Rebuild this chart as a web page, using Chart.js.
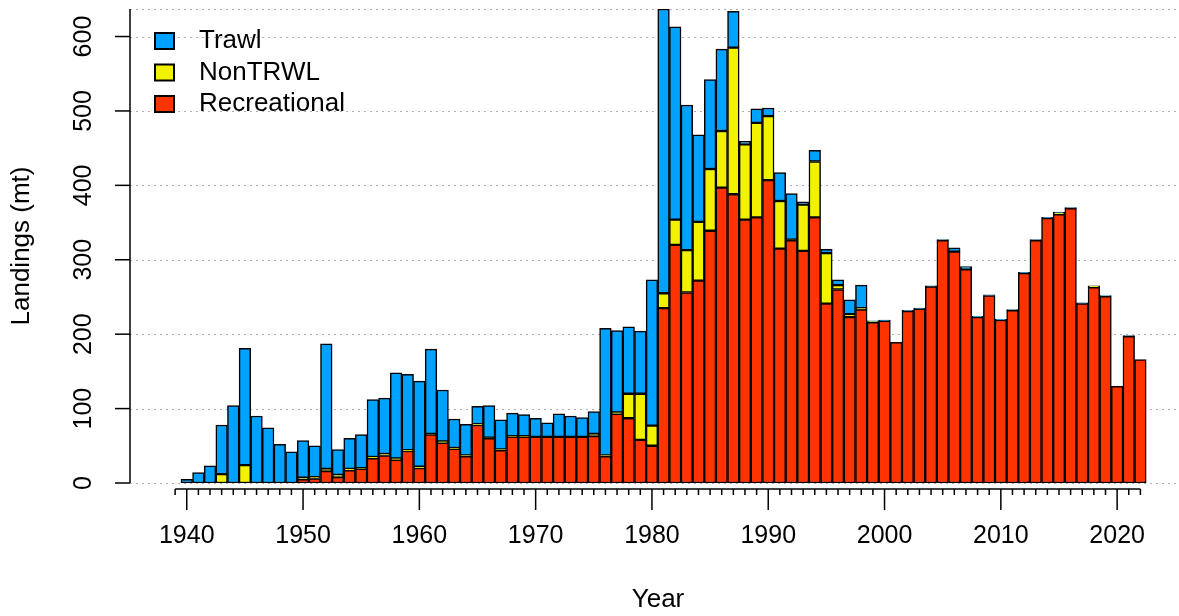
<!DOCTYPE html>
<html>
<head>
<meta charset="utf-8">
<script src="https://cdn.jsdelivr.net/npm/chart.js@4.4.1/dist/chart.umd.min.js"></script>
<style>
  html, body { margin: 0; padding: 0; background: #fff; }
  #wrap { width: 1179px; height: 616px; }
</style>
</head>
<body>
<div id="wrap"><canvas id="landingsChart" width="1179" height="616"></canvas></div>
<script>
// Landings (mt) by fleet, stacked bars, R base-graphics look
const years = [1939, 1940, 1941, 1942, 1943, 1944, 1945, 1946, 1947, 1948, 1949,
  1950, 1951, 1952, 1953, 1954, 1955, 1956, 1957, 1958, 1959,
  1960, 1961, 1962, 1963, 1964, 1965, 1966, 1967, 1968, 1969,
  1970, 1971, 1972, 1973, 1974, 1975, 1976, 1977, 1978, 1979,
  1980, 1981, 1982, 1983, 1984, 1985, 1986, 1987, 1988, 1989,
  1990, 1991, 1992, 1993, 1994, 1995, 1996, 1997, 1998, 1999,
  2000, 2001, 2002, 2003, 2004, 2005, 2006, 2007, 2008, 2009,
  2010, 2011, 2012, 2013, 2014, 2015, 2016, 2017, 2018, 2019,
  2020, 2021, 2022];

const recreational = [0, 0, 0, 0, 0, 0, 0, 0, 0, 0, 0,
  5, 6, 16, 8, 17, 19, 33, 37, 31, 43,
  20, 65, 54, 46, 36, 78, 60, 44, 62, 62,
  62, 62, 62, 62, 62, 63, 36, 93, 87, 58,
  50, 235, 320, 256, 272, 339, 397, 388, 354, 357,
  407, 315, 326, 312, 357, 241, 260, 223, 233, 216,
  218, 189, 231, 234, 264, 326, 311, 287, 223, 252,
  219, 232, 282, 326, 356, 361, 369, 241, 263, 251,
  130, 197, 166];

const nonTrawl = [0, 0, 0, 0, 12, 0, 24, 0, 0, 0, 0,
  2, 2, 3, 3, 2, 1, 2, 2, 2, 1,
  2, 1, 2, 1, 1, 1, 1, 1, 1, 1,
  0, 0, 0, 0, 0, 3, 1, 2, 33, 62,
  27, 20, 34, 57, 79, 83, 76, 197, 101, 127,
  86, 64, 1, 62, 75, 68, 6, 4, 2, 1,
  0, 0, 0, 0, 0, 0, 0, 0, 0, 0,
  0, 0, 0, 0, 0, 2, 0, 0, 2, 0,
  0, 0, 0];

const trawl = [0, 5, 14, 23, 66, 104, 157, 90, 74, 52, 42,
  50, 42, 168, 34, 41, 45, 77, 75, 115, 102,
  115, 114, 69, 39, 42, 24, 43, 40, 31, 29,
  25, 19, 31, 28, 26, 30, 171, 110, 90, 84,
  196, 382, 259, 195, 117, 120, 110, 49, 4, 19,
  11, 38, 62, 4, 15, 5, 7, 19, 31, 1,
  1, 0, 1, 1, 1, 1, 5, 4, 1, 1,
  1, 1, 1, 1, 1, 1, 1, 1, 0, 1,
  0, 1, 0];

const yTicks = [0, 100, 200, 300, 400, 500, 600];
const xLabels = [1940, 1950, 1960, 1970, 1980, 1990, 2000, 2010, 2020];
const yTop = 637;

const colTrawl = "#00A2FF";
const colNonTrawl = "#F2F200";
const colRec = "#FF3300";
const tickFont = '25px "Liberation Sans", Arial, sans-serif';
const labelFont = '26px "Liberation Sans", Arial, sans-serif';

// draws the R style axes, dotted grid, titles and legend
const rAxes = {
  id: "rAxes",
  beforeDatasetsDraw(chart) {
    const ctx = chart.ctx;
    const y = chart.scales.y;
    const area = chart.chartArea;
    ctx.save();
    ctx.strokeStyle = "#b0b0b0";
    ctx.lineWidth = 1;
    ctx.setLineDash([2, 4]);
    yTicks.concat([yTop]).forEach(v => {
      const py = Math.round(y.getPixelForValue(v)) + 0.5;
      ctx.beginPath();
      ctx.moveTo(area.left, py);
      ctx.lineTo(chart.width, py);
      ctx.stroke();
    });
    ctx.restore();
  },
  afterDraw(chart) {
    const ctx = chart.ctx;
    const x = chart.scales.x;
    const y = chart.scales.y;
    const area = chart.chartArea;
    ctx.save();
    ctx.strokeStyle = "#000";
    ctx.fillStyle = "#000";
    ctx.lineWidth = 1.5;
    ctx.font = tickFont;

    // y axis
    ctx.beginPath();
    ctx.moveTo(area.left, y.getPixelForValue(0));
    ctx.lineTo(area.left, y.getPixelForValue(yTop));
    ctx.stroke();
    yTicks.forEach(v => {
      const py = y.getPixelForValue(v);
      ctx.beginPath();
      ctx.moveTo(area.left - 15, py);
      ctx.lineTo(area.left, py);
      ctx.stroke();
      ctx.save();
      ctx.translate(area.left - 46, py);
      ctx.rotate(-Math.PI / 2);
      ctx.textAlign = "center";
      ctx.textBaseline = "middle";
      ctx.fillText(String(v), 0, 0);
      ctx.restore();
    });

    // x axis, one tick per year, long ticks on decades
    const axisY = area.bottom + 6;
    ctx.beginPath();
    ctx.moveTo(x.getPixelForValue(years[0]), axisY);
    ctx.lineTo(x.getPixelForValue(years[years.length - 1]), axisY);
    ctx.stroke();
    years.forEach(yr => {
      const px = x.getPixelForValue(yr);
      const len = xLabels.includes(yr) ? 21 : 6;
      ctx.beginPath();
      ctx.moveTo(px, axisY);
      ctx.lineTo(px, axisY + len);
      ctx.stroke();
    });
    ctx.textAlign = "center";
    ctx.textBaseline = "middle";
    xLabels.forEach(yr => {
      ctx.fillText(String(yr), x.getPixelForValue(yr), axisY + 47);
    });

    // axis titles
    ctx.font = labelFont;
    ctx.fillText("Year", 658, 600);
    ctx.save();
    ctx.translate(22, (area.top + area.bottom) / 2);
    ctx.rotate(-Math.PI / 2);
    ctx.fillText("Landings (mt)", 0, 0);
    ctx.restore();

    // legend
    const items = [
      ["Trawl", colTrawl],
      ["NonTRWL", colNonTrawl],
      ["Recreational", colRec]
    ];
    ctx.textAlign = "left";
    items.forEach((it, i) => {
      const cy = 41 + i * 31.5;
      ctx.fillStyle = it[1];
      ctx.fillRect(155, cy - 8, 19, 16);
      ctx.lineWidth = 2;
      ctx.strokeRect(155, cy - 8, 19, 16);
      ctx.fillStyle = "#000";
      ctx.fillText(it[0], 199, cy);
    });
    ctx.restore();
  }
};

const barStyle = {
  borderColor: "#000",
  borderWidth: 1.5,
  borderSkipped: false,
  barPercentage: 1,
  categoryPercentage: 1
};

const ctx = document.getElementById("landingsChart").getContext("2d");
const landingsChart = new Chart(ctx, {
  type: "bar",
  data: {
    labels: years,
    datasets: [
      Object.assign({ label: "Recreational", data: recreational, backgroundColor: colRec }, barStyle),
      Object.assign({ label: "NonTRWL", data: nonTrawl, backgroundColor: colNonTrawl }, barStyle),
      Object.assign({ label: "Trawl", data: trawl, backgroundColor: colTrawl }, barStyle)
    ]
  },
  options: {
    responsive: false,
    animation: false,
    devicePixelRatio: 1,
    layout: { padding: { left: 130, right: 0, top: 9, bottom: 133 } },
    plugins: {
      legend: { display: false },
      tooltip: { enabled: false }
    },
    scales: {
      x: { type: "linear", stacked: true, offset: false, min: 1935.12, max: 2025.32, display: false },
      y: { stacked: true, min: 0, max: yTop, display: false }
    }
  },
  plugins: [rAxes]
});
</script>
</body>
</html>
